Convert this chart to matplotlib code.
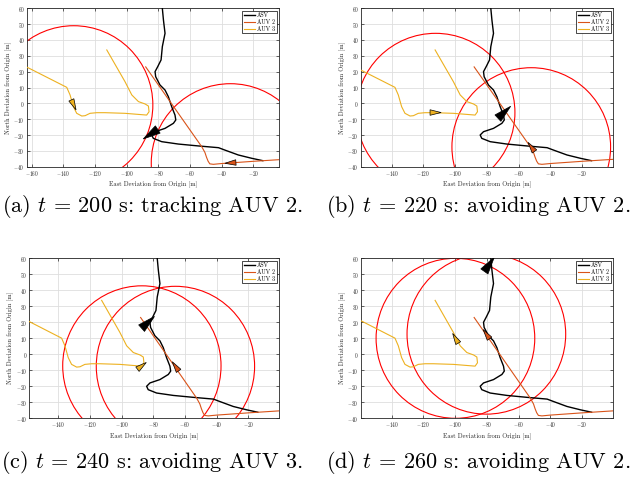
import numpy as np
import matplotlib
matplotlib.use("Agg")
import matplotlib.pyplot as plt
from matplotlib.patches import Circle, Polygon

plt.rcParams['font.family'] = 'cmr10'
plt.rcParams['mathtext.fontset'] = 'cm'
plt.rcParams['axes.formatter.use_mathtext'] = True

# Full trajectories (East, North) in metres, in order of travel
asv_east = [-14, -21, -29.5, -38, -42, -54.7, -67.4, -77.9, -83.2, -84.2, -82.1,
            -75.8, -70.5, -69, -69.5, -71.6, -73.7, -75.8, -79, -81.7, -82.1,
            -80.4, -78.3, -77.5, -75.8, -76.8, -77.5]
asv_north = [-36.2, -34.7, -32.6, -29.5, -28, -26.9, -25.7, -24.2, -22.1, -20, -17.9,
             -15.8, -12.6, -10.5, -7.4, -2.1, 4.2, 8.4, 11.6, 16.8, 20,
             23.2, 27.4, 35.8, 44.2, 52.6, 60]

auv2_east = [2, -20, -40, -45.3, -47.5, -48.6, -49.6, -50.6, -52.6, -88]
auv2_north = [-35.2, -36.6, -38, -38.5, -38.2, -36.5, -34, -31, -27.4, 23]

auv3_east = [-168, -159.6, -137.9, -135.8, -133.7, -131.6, -128.4, -126.3, -123.2,
             -118.9, -113.7, -101.1, -87.4, -85.9, -86.3, -88.4, -92.6, -96.8,
             -101.1, -112.6]
auv3_north = [25.3, 21.1, 10.1, 5.3, -2.1, -6.3, -8, -7.8, -6.3,
              -5.9, -5.9, -6.3, -7.4, -5.3, -1.7, -0.4, 1.1, 5.3,
              13.7, 33.7]

# Snapshots: vehicle poses (east, north, heading in degrees)
snap_tags = ["(a)", "(b)", "(c)", "(d)"]
snap_times = [200, 220, 240, 260]
snap_modes = ["tracking AUV 2", "avoiding AUV 2", "avoiding AUV 3", "avoiding AUV 2"]
asv_pose = [(-85.0, -19.5, 213), (-69.0, -5.6, 43), (-83.3, 20.0, 42), (-78.4, 56.3, 55)]
auv2_pose = [(-34.5, -37.6, 184), (-52.0, -27.5, 125), (-66.0, -7.5, 125), (-80.3, 12.6, 125)]
auv3_pose = [(-133.5, -1.0, -65), (-112.3, -5.8, 0), (-87.2, -7.2, 37), (-99.8, 10.0, 120)]
safety_radius = 50.0

east_limits = [(-163.2, -3.6), (-159.5, -0.3), (-158.3, -0.4), (-159.5, -0.3)]
east_ticks = [np.arange(-160, -19, 20), np.arange(-140, -19, 20),
              np.arange(-140, -19, 20), np.arange(-140, -19, 20)]
north_limits = (-40, 60)
north_ticks = np.arange(-40, 61, 10)

W, H = 634, 479
axes_px = [(26.7, 8.3, 279.3, 166.7), (360.7, 8.3, 613.3, 166.7),
           (29.3, 258.3, 279.3, 418.3), (360.7, 258.3, 613.3, 418.3)]
caption_px = [(152, 207), (478, 207), (152, 463), (478, 463)]

c_asv = 'black'
c_auv2 = '#D95319'
c_auv3 = '#EDB120'
c_zone = '#FF0000'
ink = '#262626'


def vehicle_shape(pose, length, width):
    x, y, hdg = pose
    a = np.deg2rad(hdg)
    d = np.array([np.cos(a), np.sin(a)])
    n = np.array([-np.sin(a), np.cos(a)])
    c = np.array([x, y])
    tip = c + d * length / 2
    back = c - d * length / 2
    return [tip, back + n * width / 2, back - n * width / 2]


fig = plt.figure(figsize=(W / 100, H / 100), dpi=100)

for i in range(4):
    l, t, r, b = axes_px[i]
    ax = fig.add_axes([l / W, 1 - b / H, (r - l) / W, (b - t) / H])
    ax.set_xlim(*east_limits[i])
    ax.set_ylim(*north_limits)
    ax.set_axisbelow(True)
    ax.grid(True, color='#DEDEDE', lw=0.6)
    ax.set_xticks(east_ticks[i])
    ax.set_yticks(north_ticks)
    ax.tick_params(direction='in', top=True, right=True, length=2, width=0.5,
                   labelsize=3.8, colors=ink, pad=1.5)
    for s in ax.spines.values():
        s.set_color(ink)
        s.set_linewidth(0.6)

    ax.plot(asv_east, asv_north, color=c_asv, lw=1.0, label='ASV', zorder=3)
    ax.plot(auv2_east, auv2_north, color=c_auv2, lw=0.8, label='AUV 2', zorder=3)
    ax.plot(auv3_east, auv3_north, color=c_auv3, lw=0.8, label='AUV 3', zorder=3)

    for pose in (auv3_pose[i], auv2_pose[i]):
        ax.add_patch(Circle(pose[:2], safety_radius, fill=False, ec=c_zone, lw=0.8, zorder=2))

    ax.add_patch(Polygon(vehicle_shape(asv_pose[i], 11, 5.5), closed=True,
                         fc=c_asv, ec='black', lw=0.5, zorder=5))
    ax.add_patch(Polygon(vehicle_shape(auv2_pose[i], 7, 3.5), closed=True,
                         fc=c_auv2, ec='black', lw=0.5, zorder=5))
    ax.add_patch(Polygon(vehicle_shape(auv3_pose[i], 7, 3.5), closed=True,
                         fc=c_auv3, ec='black', lw=0.5, zorder=5))

    ax.set_xlabel('East Deviation from Origin [m]', fontsize=4.6, color=ink, labelpad=2)
    ax.set_ylabel('North Deviation from Origin [m]', fontsize=4.6, color=ink, labelpad=2)

    leg = ax.legend(loc='upper right', fontsize=4.2, frameon=True, fancybox=False,
                    framealpha=1, edgecolor='black', borderpad=0.3, labelspacing=0.15,
                    handlelength=2.0, handletextpad=0.3, borderaxespad=0.4)
    leg.get_frame().set_linewidth(0.5)

    cx, cy = caption_px[i]
    fig.text(cx / W, 1 - cy / H,
             rf"{snap_tags[i]} $t$ = {snap_times[i]} s: {snap_modes[i]}.",
             ha='center', va='center', fontsize=16)

fig.savefig('out.png', dpi=100)
